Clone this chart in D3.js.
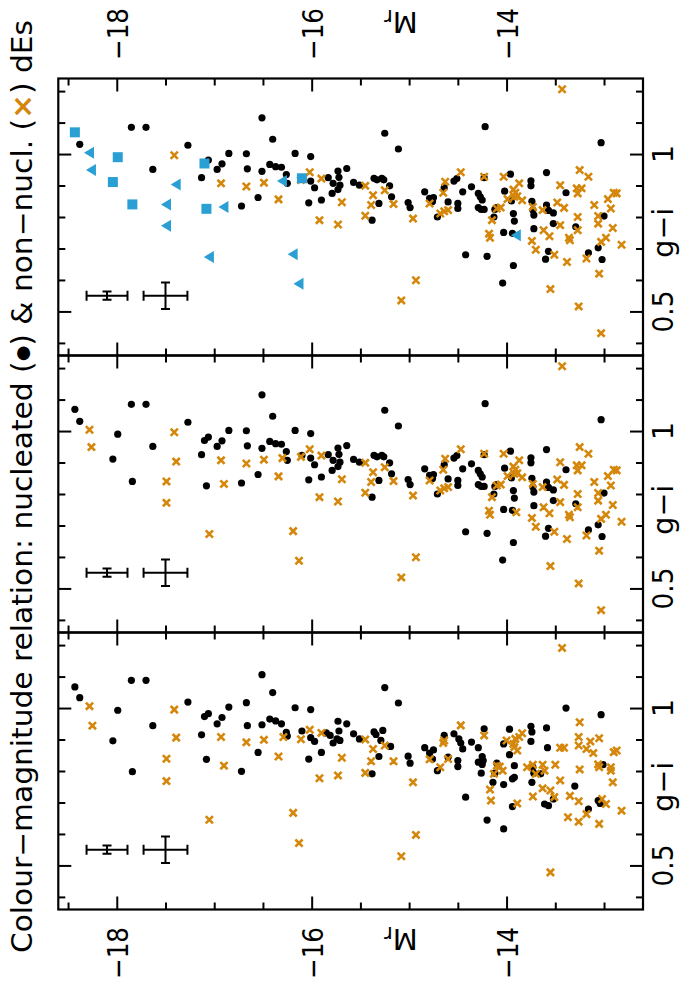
<!DOCTYPE html>
<html>
<head>
<meta charset="utf-8">
<script src="https://cdnjs.cloudflare.com/ajax/libs/d3/7.8.5/d3.min.js"></script>
<style>
  body { margin: 0; background: #fff; }
  svg text { font-family: "DejaVu Sans", sans-serif; fill: #000; }
</style>
</head>
<body>
<script>

// nucleated dEs, g-i as in the top two panels [M_r, g-i]
var nucA = [
  [-18.38,1.031],[-17.85,1.085],[-17.70,1.085],[-17.63,0.951],[-17.27,1.028],[-17.13,0.925],[-17.06,0.981],
  [-16.97,0.951],[-16.92,0.969],[-16.85,1.002],[-16.72,0.835],[-16.67,1.001],[-16.66,0.953],[-16.55,0.862],
  [-16.51,0.945],[-16.51,1.115],[-16.43,0.967],[-16.40,1.047],[-16.37,0.960],[-16.31,0.958],[-16.26,0.935],
  [-16.25,0.907],[-16.17,1.002],[-16.03,0.845],[-16.01,0.992],[-16.01,0.914],[-15.97,0.893],[-15.90,0.854],
  [-15.83,0.925],[-15.78,0.907],[-15.73,0.946],[-15.72,0.926],[-15.73,0.887],[-15.79,0.875],[-15.71,0.901],
  [-15.64,0.954],[-15.57,0.910],[-15.51,0.901],[-15.38,0.790],[-15.36,0.923],[-15.33,0.918],[-15.28,0.923],
  [-15.26,0.918],[-15.31,0.843],[-15.20,0.899],[-15.18,0.864],[-15.25,1.066],[-15.11,1.016],[-15.01,0.846],
  [-14.99,0.830],[-14.84,0.880],[-14.79,0.859],[-14.75,0.862],[-14.76,0.849],[-14.71,0.800],[-14.64,0.893],
  [-14.60,0.848],[-14.54,0.914],[-14.51,0.922],[-14.50,0.843],[-14.50,0.827],[-14.45,0.880],[-14.36,0.896],
  [-14.29,0.875],[-14.27,0.864],[-14.25,0.854],[-14.29,0.830],[-14.26,0.824],[-14.23,0.824],[-14.22,1.087],
  [-14.23,0.925],[-14.10,0.830],[-14.12,0.824],[-14.13,0.800],[-14.03,0.751],[-14.02,0.882],[-13.96,0.936],
  [-13.95,0.851],[-13.93,0.811],[-13.92,0.787],[-13.94,0.748],[-13.93,0.646],[-14.04,0.590],[-14.42,0.680],
  [-14.20,0.675],[-13.75,0.915],[-13.75,0.899],[-13.74,0.850],[-13.73,0.822],[-13.72,0.806],[-13.72,0.763],
  [-13.59,0.941],[-13.59,0.838],[-13.57,0.821],[-13.52,0.813],[-13.52,0.779],[-13.57,0.691],[-13.60,0.666],
  [-13.39,0.877],[-13.29,0.769],[-13.16,0.686],[-13.06,0.702],[-13.02,0.665],[-13.00,0.803],[-13.03,1.036]
];
// nucleated dEs marked blue (squares) in the top panel
var discNucA = [
  [-18.43,1.069],[-17.99,0.990],[-18.04,0.911],[-17.84,0.840],[-17.10,0.970],[-17.08,0.826],[-16.10,0.923]
];

// non-nucleated dEs, top two panels
var nonA = [
  [-17.41,0.996],[-16.93,0.907],[-16.67,0.897],[-16.49,0.909],[-16.34,0.856],[-16.11,0.918],[-16.02,0.942],
  [-15.90,0.922],[-15.92,0.790],[-15.73,0.776],[-15.69,0.847],[-15.45,0.899],[-15.37,0.869],[-15.39,0.838],
  [-15.45,0.804],[-15.25,0.885],[-15.16,0.841],[-14.96,0.795],[-14.93,0.599],[-15.08,0.535],[-14.79,0.843],
  [-14.65,0.877],[-14.63,0.912],[-14.68,0.811],[-14.64,0.818],[-14.60,0.822],[-14.47,0.942],[-14.23,0.928],
  [-14.18,0.747],[-14.17,0.734],[-14.15,0.790],[-14.10,0.827],[-14.06,0.830],[-14.03,0.928],[-13.99,0.857],
  [-13.93,0.887],[-13.91,0.877],[-13.92,0.864],[-13.89,0.866],[-13.84,0.853],[-13.87,0.907],[-13.74,0.724],
  [-13.70,0.696],[-13.73,0.832],[-13.63,0.822],[-13.62,0.758],[-13.56,0.739],[-13.55,0.571],[-13.51,0.680],
  [-13.48,0.846],[-13.45,0.901],[-13.43,1.206],[-13.41,0.829],[-13.45,0.774],[-13.38,0.657],[-13.36,0.734],
  [-13.35,0.726],[-13.27,0.758],[-13.27,0.800],[-13.26,0.516],[-13.25,0.949],[-13.28,0.891],[-13.27,0.875],
  [-13.23,0.891],[-13.16,0.928],[-13.18,0.668],[-13.10,0.838],[-13.06,0.803],[-13.06,0.779],[-13.03,0.721],
  [-13.05,0.620],[-13.03,0.431],[-12.98,0.734],[-12.96,0.857],[-12.93,0.827],[-12.91,0.765],[-12.90,0.877],
  [-12.87,0.875],[-12.82,0.712]
];
// non-nucleated dEs marked blue (triangles) in the top panel
var discNonA = [
  [-18.28,1.004],[-18.26,0.949],[-17.39,0.903],[-17.49,0.840],[-17.49,0.772],[-16.90,0.832],[-17.05,0.673],
  [-16.30,0.914],[-16.19,0.682],[-16.13,0.588],[-13.90,0.742]
];

// bottom panel
var nucB = [
  [-18.43,1.067],[-18.38,1.033],[-18.04,0.896],[-17.99,0.993],[-17.85,1.088],[-17.84,0.798],[-17.70,1.088],
  [-17.63,0.944],[-17.27,1.019],[-17.13,0.915],[-17.10,0.973],[-17.06,0.982],[-17.08,0.837],[-16.97,0.950],
  [-16.92,0.970],[-16.85,1.003],[-16.72,0.799],[-16.67,1.017],[-16.66,0.944],[-16.55,0.859],[-16.51,0.947],
  [-16.51,1.106],[-16.43,0.965],[-16.40,1.049],[-16.37,0.959],[-16.31,0.950],[-16.26,0.923],[-16.25,0.911],
  [-16.17,1.001],[-16.10,0.927],[-16.03,0.838],[-16.01,0.995],[-16.01,0.906],[-15.97,0.894],[-15.90,0.859],
  [-15.85,0.921],[-15.81,0.913],[-15.78,0.889],[-15.74,0.902],[-15.73,0.958],[-15.72,0.927],[-15.71,0.897],
  [-15.64,0.950],[-15.57,0.918],[-15.51,0.902],[-15.38,0.791],[-15.36,0.924],[-15.34,0.916],[-15.27,0.929],
  [-15.29,0.897],[-15.31,0.846],[-15.19,0.878],[-15.25,1.065],[-15.11,1.016],[-15.01,0.847],[-14.99,0.825],
  [-14.84,0.874],[-14.79,0.857],[-14.75,0.867],[-14.76,0.838],[-14.71,0.801],[-14.64,0.913],[-14.60,0.844],
  [-14.54,0.918],[-14.49,0.902],[-14.47,0.889],[-14.45,0.870],[-14.50,0.833],[-14.50,0.814],[-14.36,0.892],
  [-14.42,0.717],[-14.29,0.874],[-14.25,0.846],[-14.24,0.833],[-14.29,0.828],[-14.25,0.821],[-14.26,0.793],
  [-14.23,0.934],[-14.20,0.644],[-14.14,0.764],[-14.12,0.793],[-14.10,0.825],[-14.03,0.757],[-14.03,0.616],
  [-14.03,0.886],[-13.97,0.933],[-13.97,0.852],[-13.92,0.817],[-13.92,0.780],[-13.94,0.775],[-13.94,0.687],
  [-13.75,0.942],[-13.74,0.924],[-13.75,0.894],[-13.73,0.812],[-13.72,0.793],[-13.74,0.764],[-13.59,0.937],
  [-13.58,0.874],[-13.65,0.791],[-13.61,0.695],[-13.57,0.690],[-13.52,0.711],[-13.39,1.000],[-13.30,0.752],
  [-13.16,0.679],[-13.06,0.706],[-13.04,0.697],[-13.03,0.979],[-13.01,0.820]
];
var nonB = [
  [-18.28,1.006],[-18.25,0.944],[-17.41,0.995],[-17.39,0.906],[-17.49,0.839],[-17.49,0.768],[-17.05,0.645],
  [-16.93,0.908],[-16.90,0.817],[-16.67,0.891],[-16.49,0.899],[-16.34,0.846],[-16.29,0.908],[-16.19,0.667],
  [-16.13,0.571],[-16.11,0.901],[-16.02,0.931],[-15.90,0.921],[-15.92,0.777],[-15.73,0.786],[-15.69,0.842],
  [-15.45,0.900],[-15.37,0.870],[-15.39,0.831],[-15.45,0.794],[-15.25,0.881],[-15.16,0.831],[-14.96,0.764],
  [-14.93,0.597],[-15.08,0.529],[-14.79,0.837],[-14.65,0.889],[-14.64,0.897],[-14.68,0.812],[-14.60,0.838],
  [-14.47,0.945],[-14.23,0.913],[-14.17,0.741],[-14.16,0.706],[-14.13,0.791],[-14.10,0.817],[-14.07,0.814],
  [-14.04,0.801],[-14.00,0.897],[-13.93,0.886],[-13.92,0.876],[-13.89,0.865],[-13.91,0.902],[-13.87,0.908],
  [-13.84,0.920],[-13.89,0.697],[-13.79,0.812],[-13.73,0.820],[-13.70,0.791],[-13.73,0.719],[-13.63,0.820],
  [-13.61,0.801],[-13.63,0.745],[-13.55,0.738],[-13.51,0.717],[-13.55,0.478],[-13.50,0.820],[-13.45,0.770],
  [-13.45,0.874],[-13.41,0.874],[-13.43,1.191],[-13.35,0.721],[-13.37,0.653],[-13.26,0.704],[-13.26,0.639],
  [-13.25,0.955],[-13.26,0.908],[-13.26,0.881],[-13.18,0.870],[-13.14,0.894],[-13.11,0.857],[-13.25,0.805],
  [-13.18,0.663],[-13.05,0.904],[-13.06,0.821],[-13.05,0.812],[-13.02,0.711],[-13.05,0.632],[-12.98,0.695],
  [-12.93,0.812],[-12.93,0.801],[-12.91,0.764],[-12.90,0.860],[-12.87,0.865],[-12.82,0.674]
];

// typical errors drawn in the corner of each panel
var errMr = [-18.1, -17.5];
var errGI = [0.55, 0.55];
var errDMr = [0.21, 0.225];
var errDGI = [0.013, 0.042];

var xMajor = [-18, -16, -14];
var xMinor = d3.range(-18.5, -12.7, 0.5).filter(function(v) { return Math.abs(v % 2) > 0.01; });
var yMajor = [0.5, 1];
var yMinor = [0.4, 0.6, 0.7, 0.8, 0.9, 1.1, 1.2];
var xLabels = ['\u221218', '\u221216', '\u221214'];
var yLabels = ['0.5', '1'];

var orange = '#d4870b', blue = '#2a9fd3';

var svg = d3.select('body').append('svg').attr('width', 693).attr('height', 984);

var x = d3.scaleLinear().domain([-18.6, -12.6]).range([58.3, 643]);
var panelH = 277;
var panelTop = [78.5, 355.5, 632.5];

var panels = [
  { nuc: nucA, non: nonA, discNuc: discNucA, discNon: discNonA },
  { nuc: nucA.concat(discNucA), non: nonA.concat(discNonA), discNuc: [], discNon: [] },
  { nuc: nucB, non: nonB, discNuc: [], discNon: [] }
];

var crossPath = 'M-3.6,-3.6L3.6,3.6M-3.6,3.6L3.6,-3.6';
var triPath = 'M-5.5,0L4.5,-6L4.5,6Z';

// rotated text helper
function label(px, py, angle, str, anchor, size, len) {
  var t = svg.append('text')
    .attr('transform', 'translate(' + px + ',' + py + ') rotate(' + angle + ')')
    .attr('text-anchor', anchor)
    .style('font-size', size + 'px')
    .text(str);
  if (len) t.attr('textLength', len).attr('lengthAdjust', 'spacingAndGlyphs');
  return t;
}

panels.forEach(function(p, i) {
  var top = panelTop[i];
  var y = d3.scaleLinear().domain([0.36, 1.24]).range([top + panelH, top]);
  var g = svg.append('g');

  // ticks on all four sides, pointing in
  function ticks(axis, tr) {
    g.append('g').attr('transform', tr).call(axis)
      .call(function(s) { s.select('.domain').remove(); })
      .selectAll('line').attr('stroke-width', 2);
  }
  ticks(d3.axisBottom(x).tickValues(xMajor).tickSize(-13).tickFormat(''), 'translate(0,' + (top + panelH) + ')');
  ticks(d3.axisBottom(x).tickValues(xMinor).tickSize(-7).tickFormat(''), 'translate(0,' + (top + panelH) + ')');
  ticks(d3.axisTop(x).tickValues(xMajor).tickSize(-13).tickFormat(''), 'translate(0,' + top + ')');
  ticks(d3.axisTop(x).tickValues(xMinor).tickSize(-7).tickFormat(''), 'translate(0,' + top + ')');
  ticks(d3.axisLeft(y).tickValues(yMajor).tickSize(-13).tickFormat(''), 'translate(' + x.range()[0] + ',0)');
  ticks(d3.axisLeft(y).tickValues(yMinor).tickSize(-7).tickFormat(''), 'translate(' + x.range()[0] + ',0)');
  ticks(d3.axisRight(y).tickValues(yMajor).tickSize(-13).tickFormat(''), 'translate(' + x.range()[1] + ',0)');
  ticks(d3.axisRight(y).tickValues(yMinor).tickSize(-7).tickFormat(''), 'translate(' + x.range()[1] + ',0)');

  g.append('rect')
    .attr('x', x.range()[0]).attr('y', top)
    .attr('width', x.range()[1] - x.range()[0]).attr('height', panelH)
    .attr('fill', 'none').attr('stroke', '#000').attr('stroke-width', 2.2);

  // error bars
  errMr.forEach(function(m, k) {
    var cx = x(m), cy = y(errGI[k]);
    var x0 = x(m - errDMr[k]), x1 = x(m + errDMr[k]);
    var y0 = y(errGI[k] - errDGI[k]), y1 = y(errGI[k] + errDGI[k]);
    var d = 'M' + x0 + ',' + cy + 'H' + x1 +
            'M' + x0 + ',' + (cy - 5) + 'V' + (cy + 5) +
            'M' + x1 + ',' + (cy - 5) + 'V' + (cy + 5) +
            'M' + cx + ',' + y0 + 'V' + y1 +
            'M' + (cx - 4.5) + ',' + y0 + 'H' + (cx + 4.5) +
            'M' + (cx - 4.5) + ',' + y1 + 'H' + (cx + 4.5);
    g.append('path').attr('d', d).attr('fill', 'none').attr('stroke', '#000').attr('stroke-width', 2);
  });

  g.selectAll('circle.nuc').data(p.nuc).enter().append('circle')
    .attr('class', 'nuc')
    .attr('cx', function(d) { return x(d[0]); })
    .attr('cy', function(d) { return y(d[1]); })
    .attr('r', 3.6)
    .attr('fill', '#000');

  g.selectAll('path.non').data(p.non).enter().append('path')
    .attr('class', 'non')
    .attr('d', crossPath)
    .attr('transform', function(d) { return 'translate(' + x(d[0]) + ',' + y(d[1]) + ')'; })
    .attr('stroke', orange).attr('stroke-width', 2.6).attr('fill', 'none');

  g.selectAll('rect.disc').data(p.discNuc).enter().append('rect')
    .attr('class', 'disc')
    .attr('x', function(d) { return x(d[0]) - 5; })
    .attr('y', function(d) { return y(d[1]) - 5; })
    .attr('width', 10).attr('height', 10)
    .attr('fill', blue);

  g.selectAll('path.disc').data(p.discNon).enter().append('path')
    .attr('class', 'disc')
    .attr('d', triPath)
    .attr('transform', function(d) { return 'translate(' + x(d[0]) + ',' + y(d[1]) + ')'; })
    .attr('fill', blue);

  // g-i labels on the right
  yMajor.forEach(function(v, k) {
    label(673, y(v), -90, yLabels[k], 'middle', 29, yLabels[k].length > 1 ? 42 : null);
  });
  label(673, y(0.75), -90, 'g\u2212i', 'middle', 29, 50);
});

// M_r tick labels above the top panel and below the bottom panel
xMajor.forEach(function(v, k) {
  label(x(v) + 11, 60, -90, xLabels[k], 'start', 29, 52);
  label(x(v) + 11, 927, -90, xLabels[k], 'end', 29, 52);
});

// axis titles, printed upside down as in the figure
[12, 929].forEach(function(py) {
  var t = label(401, py, 180, 'M', 'middle', 29);
  t.append('tspan').attr('dy', 2).style('font-size', '21px').text('r');
});

// figure title along the left edge
var title = label(32, 953, -90, 'Colour\u2212magnitude relation: nucleated (', 'start', 28, 933);
title.append('tspan').style('font-size', '17px').attr('dy', -4).text('\u25CF');
title.append('tspan').attr('dy', 4).text(') & non\u2212nucl. (');
title.append('tspan').style('fill', orange).style('font-weight', 'bold').text('\u00D7');
title.append('tspan').text(') dEs');

</script>
</body>
</html>
